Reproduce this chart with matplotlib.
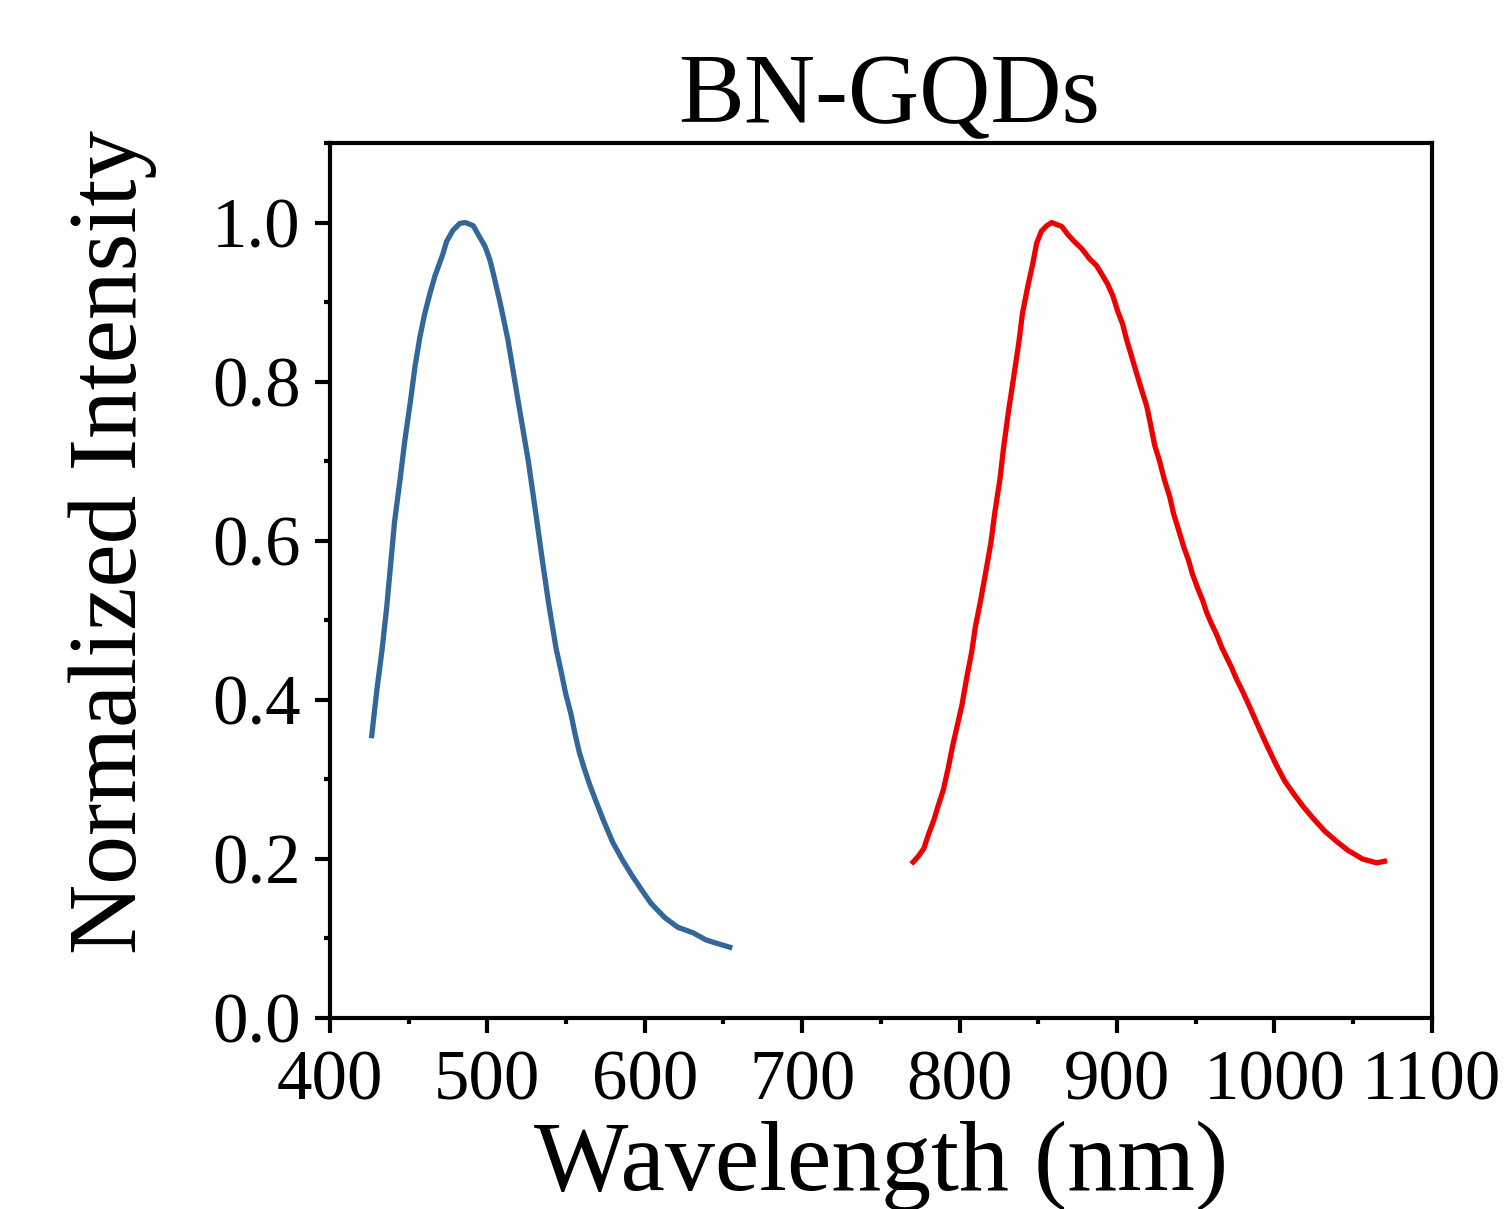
import matplotlib
matplotlib.use("Agg")
import matplotlib.pyplot as plt
from matplotlib.ticker import MultipleLocator

plt.rcParams['font.family'] = ['Liberation Serif', 'DejaVu Serif']

# blue curve (excitation)
blue_nm = [426.5, 429.8, 433, 436, 441, 444.5, 447.6, 451, 454, 457, 460, 463.5,
           466.7, 471.8, 474, 478, 482.5, 486, 491, 495, 498.5, 501.6, 503.5, 508,
           513, 519.5, 526, 531.5, 535, 539, 543.6, 546.7, 549.7, 553, 555.6,
           558.4, 561.5, 564.7, 567.9, 573.6, 579.6, 586, 591.6, 598, 604, 612.8,
           621, 630.8, 639, 648.8, 654]
blue_val = [0.355, 0.413, 0.462, 0.516, 0.624, 0.677, 0.727, 0.774, 0.819, 0.855,
            0.884, 0.911, 0.933, 0.961, 0.976, 0.990, 0.999, 1.0, 0.996, 0.982,
            0.970, 0.953, 0.938, 0.90, 0.853, 0.776, 0.70, 0.624, 0.574, 0.52,
            0.465, 0.437, 0.408, 0.383, 0.358, 0.334, 0.314, 0.295, 0.278, 0.249,
            0.221, 0.198, 0.18, 0.161, 0.144, 0.126, 0.114, 0.107, 0.098, 0.092,
            0.089]

# red curve (emission)
red_nm = [770.5, 773.7, 777.3, 780.5, 783.7, 786.3, 789.6, 792.8, 795.5, 798.5,
          801.5, 804.6, 807.8, 810, 813.5, 816.7, 819.9, 822.4, 825.6, 828, 831,
          834.5, 837.6, 840, 843.4, 846.5, 849, 852, 855.4, 858.6, 865, 868.8,
          873, 877.7, 882.8, 887, 890.4, 894, 897.4, 900.6, 903.7, 906, 909,
          912.6, 915.8, 919, 921.5, 924, 927, 930, 933.6, 936, 939.3, 942.5,
          945.6, 948, 951.4, 954.5, 957, 960, 963.4, 966.6, 969.8, 973, 976, 980,
          984.4, 989.5, 995, 1001, 1006.6, 1013, 1018.7, 1025.6, 1032, 1039.6,
          1046.6, 1056, 1065, 1070]
red_val = [0.196, 0.203, 0.213, 0.232, 0.249, 0.266, 0.286, 0.314, 0.341, 0.367,
           0.393, 0.428, 0.461, 0.491, 0.526, 0.561, 0.597, 0.635, 0.676, 0.717,
           0.761, 0.807, 0.848, 0.886, 0.920, 0.948, 0.974, 0.989, 0.996, 1.0,
           0.995, 0.985, 0.976, 0.967, 0.954, 0.946, 0.935, 0.923, 0.908, 0.888,
           0.872, 0.854, 0.834, 0.81, 0.789, 0.769, 0.745, 0.72, 0.701, 0.678,
           0.655, 0.634, 0.613, 0.592, 0.575, 0.558, 0.540, 0.525, 0.51, 0.496,
           0.482, 0.466, 0.453, 0.44, 0.426, 0.41, 0.391, 0.368, 0.344, 0.319,
           0.298, 0.28, 0.265, 0.249, 0.235, 0.222, 0.211, 0.20, 0.195, 0.197]

x_ticks = [400, 500, 600, 700, 800, 900, 1000, 1100]
y_ticks = [0.0, 0.2, 0.4, 0.6, 0.8, 1.0]

fig = plt.figure(figsize=(15.07, 12.09), dpi=100)
ax = fig.add_axes([0.219, 0.158, 0.731, 0.7237])

ax.plot(blue_nm, blue_val, color='#336699', lw=3.8)
ax.plot(red_nm, red_val, color='#EE0000', lw=3.8)

ax.set_xlim(400, 1100)
ax.set_ylim(0, 1.1)
ax.set_xticks(x_ticks)
ax.set_yticks(y_ticks)
ax.set_yticklabels(['%.1f' % v for v in y_ticks])
ax.xaxis.set_minor_locator(MultipleLocator(50))
ax.yaxis.set_minor_locator(MultipleLocator(0.1))

for s in ax.spines.values():
    s.set_linewidth(3)
ax.tick_params(which='major', direction='out', length=11, width=3,
               labelsize=51, pad=10)
ax.tick_params(which='minor', direction='out', length=4.5, width=3)
ax.tick_params(axis='x', pad=12)

ax.set_xlabel('Wavelength (nm)', fontsize=72, labelpad=4)
ax.set_ylabel('Normalized Intensity', fontsize=70)
ax.yaxis.set_label_coords(-0.157, 0.544)
ax.set_title('BN-GQDs', fontsize=71, pad=10, x=0.508)

fig.savefig('out.png', dpi=100)
